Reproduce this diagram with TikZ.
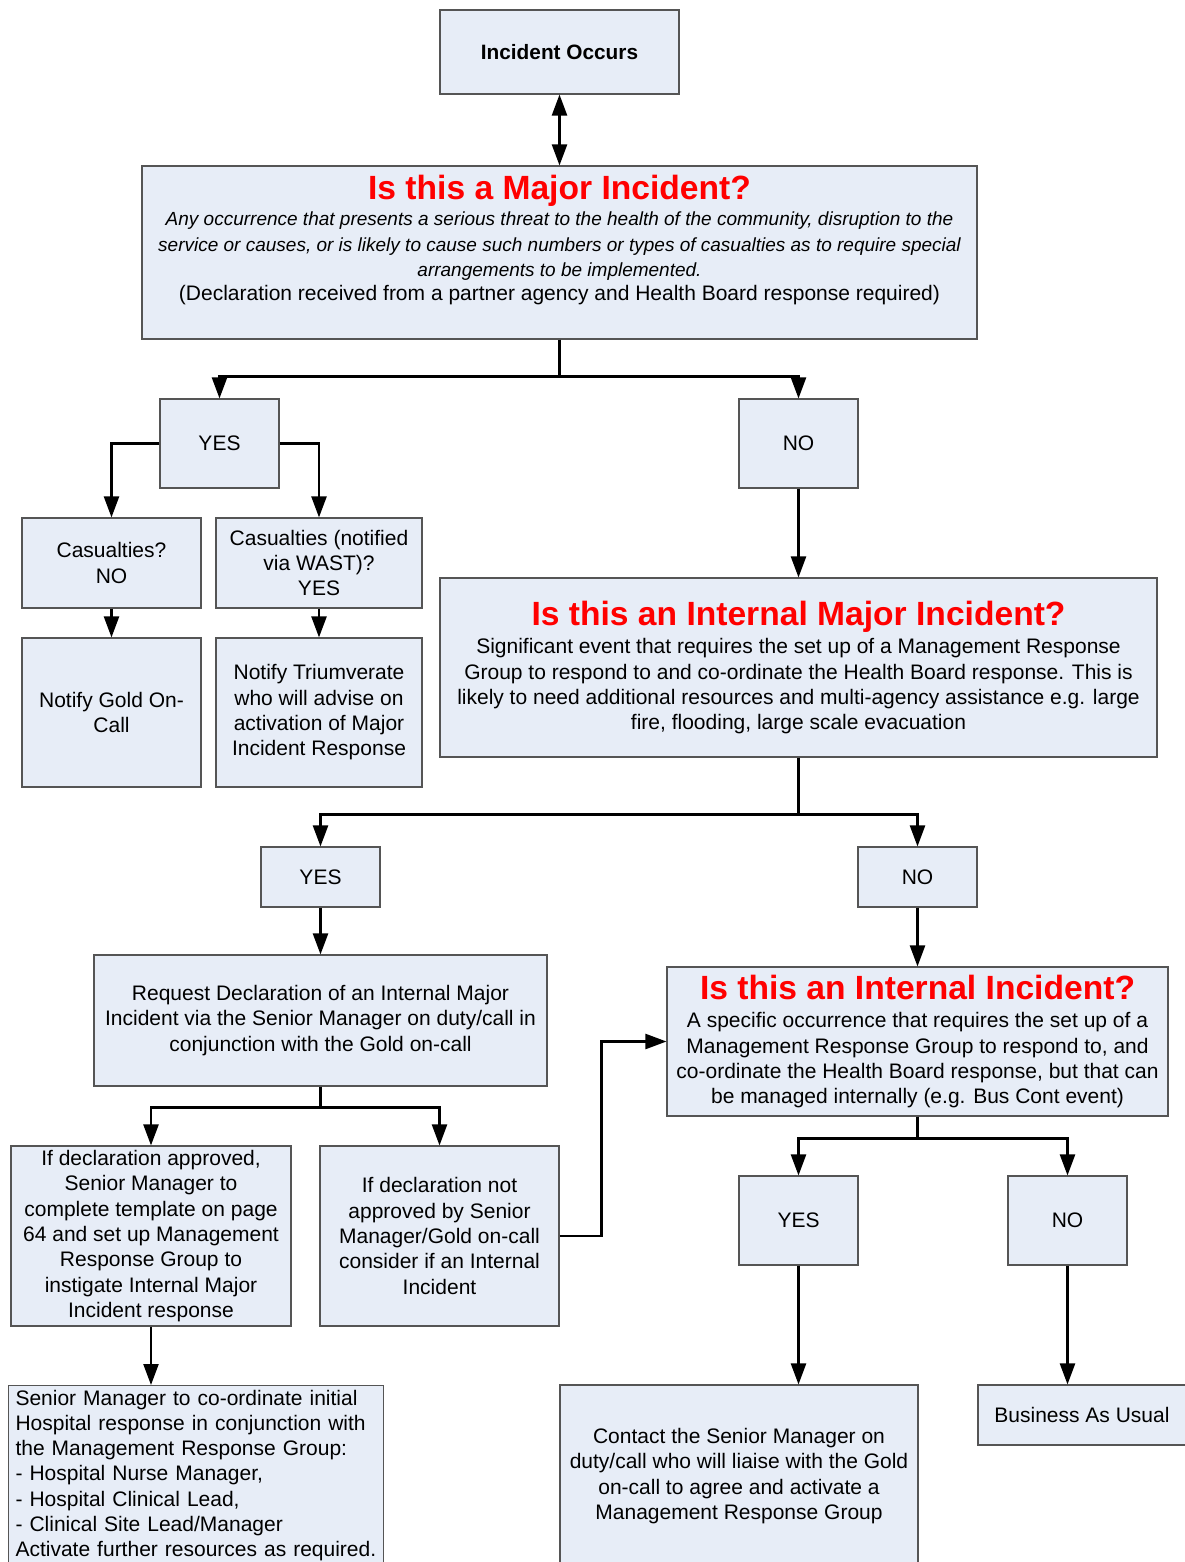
\documentclass[tikz,border=0pt]{standalone}
\usepackage{fontspec}
\setmainfont{Liberation Sans}
\usepackage{xcolor}
\usetikzlibrary{arrows.meta,positioning}
\definecolor{boxfill}{RGB}{231,237,247}
\definecolor{boxline}{RGB}{85,85,85}
\newcommand{\qtitle}[1]{{\fontsize{33.6}{36}\selectfont\bfseries\color{red}#1}}
\newcommand{\defline}[1]{{\fontsize{19}{24}\selectfont\itshape #1}}
\tikzset{
  box/.style={draw=boxline, fill=boxfill, line width=1.1pt, align=center, inner sep=2pt,
      font=\fontsize{21}{25.3}\selectfont},
  answer/.style={box, minimum width=119pt, minimum height=89pt},
  flow/.style={draw, line width=2.3pt, -{Triangle[length=21pt,width=15pt]}},
}

\begin{document}
\begin{tikzpicture}[x=1pt, y=-1pt]
  \useasboundingbox (0,0) rectangle (1184,1562);
  % top of the chart
  \node[box, minimum width=239pt, minimum height=84pt, font=\fontsize{20.8}{25}\selectfont\bfseries] (occurs) at (559.5,52) {Incident Occurs};
  \node[box, minimum width=835pt, minimum height=173pt, text depth=29pt] (major) at (559.5,252.5)
      {\qtitle{Is this a Major Incident?}\\[1pt]
       \defline{Any occurrence that presents a serious threat to the health of the community, disruption to the}\\
       \defline{service or causes, or is likely to cause such numbers or types of casualties as to require special}\\
       \defline{arrangements to be implemented.}\\[-1pt]
       (Declaration received from a partner agency and Health Board response required)};
  \node[answer] (yes1) at (219.5,443.5) {YES};
  \node[answer] (no1) at (798.5,443.5) {NO};
  % major incident branch
  \node[box, minimum width=179pt, minimum height=90pt] (cas1) at (111.5,563) {Casualties?\\NO};
  \node[box, minimum width=206pt, minimum height=90pt] (cas2) at (319,563) {Casualties (notified\\via WAST)?\\YES};
  \node[box, minimum width=179pt, minimum height=149pt] (gold) at (111.5,712.5) {Notify Gold On-\\Call};
  \node[box, minimum width=206pt, minimum height=149pt] (triu) at (319,712.5)
      {Notify Triumverate\\who will advise on\\activation of Major\\Incident Response};
  % internal major incident
  \node[box, minimum width=717pt, minimum height=179pt] (imaj) at (798.5,667.5)
      {\qtitle{Is this an Internal Major Incident?}\\[3pt]
       Significant event that requires the set up of a Management Response\\
       Group to respond to and co-ordinate the Health Board response. This is\\
       likely to need additional resources and multi-agency assistance e.g. large\\
       fire, flooding, large scale evacuation};
  \node[answer, minimum height=60pt] (yes2) at (320.5,877) {YES};
  \node[answer, minimum height=60pt] (no2) at (917.5,877) {NO};
  \node[box, minimum width=453pt, minimum height=131pt] (req) at (320.5,1020.5)
      {Request Declaration of an Internal Major\\
       Incident via the Senior Manager on duty/call in\\
       conjunction with the Gold on-call};
  \node[box, minimum width=280pt, minimum height=180pt] (appr) at (151,1236)
      {If declaration approved,\\Senior Manager to\\complete template on page\\64 and set up Management\\Response Group to\\instigate Internal Major\\Incident response};
  \node[box, minimum width=239pt, minimum height=180pt] (napp) at (439.5,1236)
      {If declaration not\\approved by Senior\\Manager/Gold on-call\\consider if an Internal\\Incident};
  \node[box, minimum height=180pt, text width=361pt, inner xsep=7pt, inner ysep=4pt, align=left, anchor=north west] (senior) at (8,1385)
      {Senior Manager to co-ordinate initial\\
       Hospital response in conjunction with\\
       the Management Response Group:\\
       - Hospital Nurse Manager,\\
       - Hospital Clinical Lead,\\
       - Clinical Site Lead/Manager\\
       Activate further resources as required.};
  % internal incident
  \node[box, minimum width=501pt, minimum height=149pt] (iinc) at (917.5,1041.5)
      {\qtitle{Is this an Internal Incident?}\\[3pt]
       A specific occurrence that requires the set up of a\\
       Management Response Group to respond to, and\\
       co-ordinate the Health Board response, but that can\\
       be managed internally (e.g. Bus Cont event)};
  \node[answer] (yes3) at (798.5,1220.5) {YES};
  \node[answer] (no3) at (1067.5,1220.5) {NO};
  \node[box, minimum width=358pt, minimum height=182pt] (contact) at (739,1476)
      {Contact the Senior Manager on\\duty/call who will liaise with the Gold\\on-call to agree and activate a\\Management Response Group};
  \node[box, minimum width=208pt, minimum height=60pt] (bau) at (1082,1415) {Business As Usual};

  % connectors
  \draw[flow, {Triangle[length=21pt,width=15pt]}-{Triangle[length=21pt,width=15pt]}] (occurs) -- (major);
  \draw[flow] (major.south) -- ++(0,37) -| (yes1.north);
  \draw[flow] (major.south) -- ++(0,37) -| (no1.north);
  \draw[flow] (yes1.west) -| (cas1.north);
  \draw[flow] (yes1.east) -| (cas2.north);
  \draw[flow] (cas1) -- (gold);
  \draw[flow] (cas2) -- (triu);
  \draw[flow] (no1) -- (imaj);
  \draw[flow] (imaj.south) -- ++(0,57) -| (yes2.north);
  \draw[flow] (imaj.south) -- ++(0,57) -| (no2.north);
  \draw[flow] (yes2) -- (req);
  \draw[flow] (no2) -- (iinc);
  \draw[flow] (req.south) -- ++(0,21) -| (appr.north);
  \draw[flow] (req.south) -- ++(0,21) -| (napp.north);
  \draw[flow] (napp.east) -- ++(42,0) |- (iinc.west);
  \draw[flow] (appr.south) -- (appr.south |- senior.north);
  \draw[flow] (iinc.south) -- ++(0,22) -| (yes3.north);
  \draw[flow] (iinc.south) -- ++(0,22) -| (no3.north);
  \draw[flow] (yes3.south) -- (yes3.south |- contact.north);
  \draw[flow] (no3.south) -- (no3.south |- bau.north);
\end{tikzpicture}
\end{document}
